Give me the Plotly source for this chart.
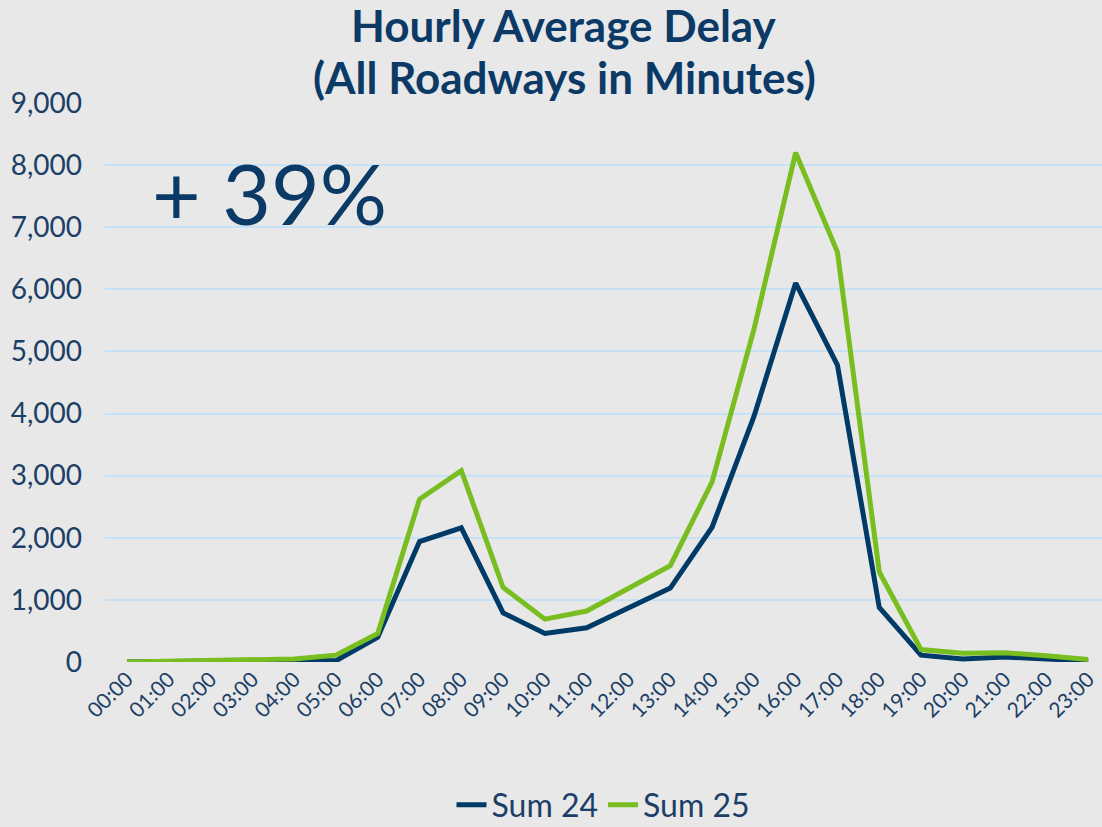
import plotly.graph_objects as go

hours = [f"{h:02d}:00" for h in range(24)]
sum24 = [0, 10, 15, 20, 30, 20, 400, 1940, 2160, 790, 460, 550, 880, 1190, 2170, 3950, 6100, 4780, 880, 110, 50, 80, 50, 10]
sum25 = [0, 15, 40, 40, 50, 110, 460, 2620, 3080, 1200, 690, 820, 1190, 1550, 2900, 5350, 8200, 6600, 1450, 200, 140, 150, 100, 40]
yticks = [0, 1000, 2000, 3000, 4000, 5000, 6000, 7000, 8000, 9000]
title_lines = ["Hourly Average Delay", "(All Roadways in Minutes)"]

navy = "#003A66"
green = "#78BE20"
txt = "#1B3F66"
fam = "Lato, Open Sans, sans-serif"

W, H = 1102, 827
ML, MR, MT, MB = 105, 0, 103, 165
plot_h = H - MT - MB

fig = go.Figure()
fig.add_trace(go.Scatter(x=list(range(24)), y=sum24, mode="lines", name="Sum 24",
                         line=dict(color=navy, width=5)))
fig.add_trace(go.Scatter(x=list(range(24)), y=sum25, mode="lines", name="Sum 25",
                         line=dict(color=green, width=5)))

fig.update_layout(
    width=W, height=H,
    paper_bgcolor="#E8E8E8", plot_bgcolor="#E8E8E8",
    margin=dict(l=ML, r=MR, t=MT, b=MB, autoexpand=False),
    font=dict(family=fam, color=txt),
    showlegend=True,
    legend=dict(orientation="h", x=0.5, xanchor="center",
                yref="container", y=(H - 805) / H, yanchor="middle",
                font=dict(size=32, color=txt), bgcolor="rgba(0,0,0,0)"),
    xaxis=dict(tickmode="array", tickvals=list(range(24)), ticktext=hours,
               range=[-0.526, 23.33], tickangle=-45, showgrid=False, zeroline=False,
               showline=False, tickfont=dict(size=21, color=txt), automargin=False),
    yaxis=dict(tickmode="array", tickvals=yticks,
               ticktext=[f"{v:,}" for v in yticks], range=[0, 9000],
               showgrid=True, gridcolor="#C5E1F7", gridwidth=2, zeroline=False,
               showline=False, tickfont=dict(size=28, color=txt), ticklabelstandoff=22,
               automargin=False),
)

for line, ypix in zip(title_lines, [25, 77]):
    fig.add_annotation(text=f"<b>{line}</b>", xref="paper", yref="paper",
                       x=(564 - ML) / (W - ML - MR), y=1 + (MT - ypix) / plot_h,
                       xanchor="center", yanchor="middle", showarrow=False,
                       font=dict(size=44, color="#0B3A66", family=fam))

fig.add_annotation(text="+ 39%", xref="paper", yref="paper", x=0.045, y=0.84,
                   xanchor="left", yanchor="middle", showarrow=False,
                   font=dict(size=84, color="#0B3A66", family=fam))

fig.write_html("out.html", config={"displayModeBar": False})
with open("out.html", "r", encoding="utf-8") as f:
    html = f.read()
html = html.replace("<body>", "<body style=\"margin:0;padding:0;overflow:hidden\">", 1)
with open("out.html", "w", encoding="utf-8") as f:
    f.write(html)
